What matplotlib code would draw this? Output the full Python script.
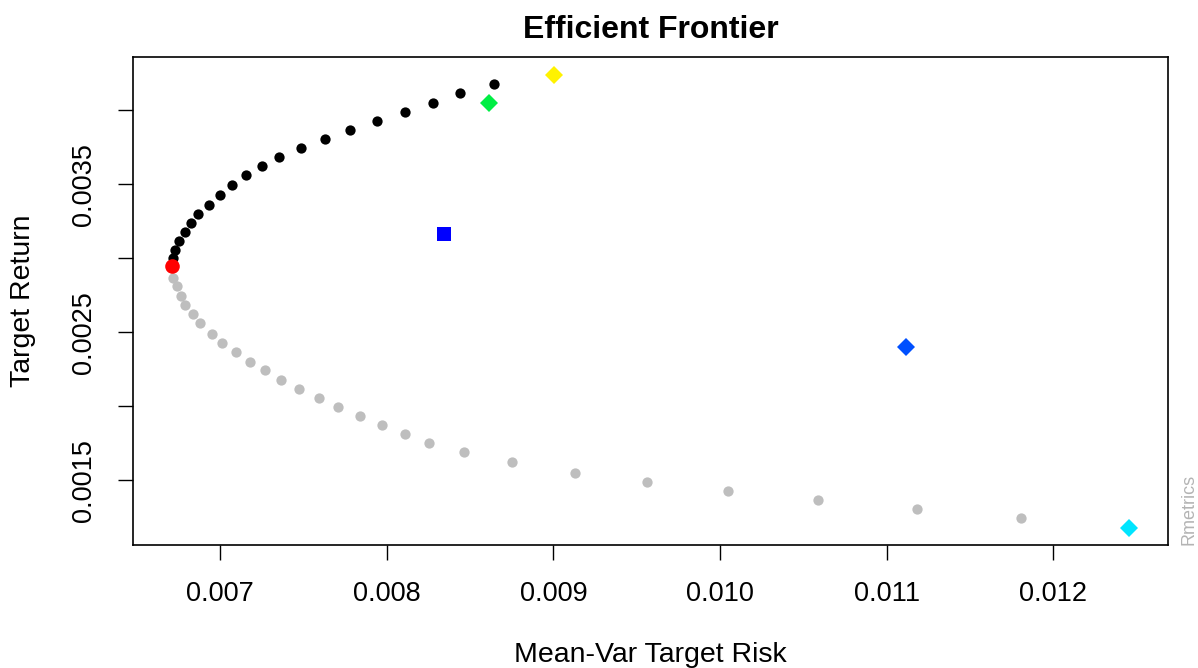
import numpy as np
import matplotlib
matplotlib.use("Agg")
import matplotlib.pyplot as plt

plt.rcParams["font.family"] = ["Liberation Sans", "DejaVu Sans"]

# efficient (upper) branch of the frontier
eff_risk = [0.008644, 0.008440, 0.008276, 0.008110, 0.007944, 0.007780, 0.007628,
            0.007486, 0.007356, 0.007250, 0.007154, 0.007074, 0.007000, 0.006932,
            0.006870, 0.006824, 0.006790, 0.006754, 0.006730, 0.006720]
eff_ret = [0.004175, 0.004114, 0.004051, 0.003991, 0.003927, 0.003867, 0.003806,
           0.003743, 0.003682, 0.003621, 0.003559, 0.003498, 0.003424, 0.003363,
           0.003302, 0.003239, 0.003178, 0.003117, 0.003055, 0.002999]

# inefficient (lower) branch
ineff_risk = [0.006716, 0.006742, 0.006766, 0.006790, 0.006836, 0.006882, 0.006954,
              0.007014, 0.007096, 0.007178, 0.007272, 0.007368, 0.007474, 0.007592,
              0.007710, 0.007840, 0.007970, 0.008110, 0.008252, 0.008466, 0.008750,
              0.009128, 0.009560, 0.010046, 0.010589, 0.011181, 0.011807]
ineff_ret = [0.002870, 0.002810, 0.002746, 0.002686, 0.002625, 0.002562, 0.002488,
             0.002425, 0.002364, 0.002303, 0.002243, 0.002179, 0.002119, 0.002058,
             0.001995, 0.001935, 0.001874, 0.001811, 0.001750, 0.001690, 0.001626,
             0.001552, 0.001489, 0.001428, 0.001366, 0.001305, 0.001244]

# minimum variance and equal weights portfolios
minvar_risk, minvar_ret = 0.006710, 0.002949
ew_risk, ew_ret = 0.008341, 0.003161

# single assets
asset_risk = [0.009002, 0.008612, 0.011115, 0.012452]
asset_ret = [0.004236, 0.004051, 0.002400, 0.001181]
asset_colors = ["#FFF200", "#00EE44", "#0050FF", "#00E5FF"]

x_ticks = [0.007, 0.008, 0.009, 0.010, 0.011, 0.012]
x_labels = ["0.007", "0.008", "0.009", "0.010", "0.011", "0.012"]
y_ticks = [0.0015, 0.0020, 0.0025, 0.0030, 0.0035, 0.0040]
y_labels = ["0.0015", "", "0.0025", "", "0.0035", ""]

W, H = 1198, 668
L, R, T, B = 133, 1168, 57, 545

fig = plt.figure(figsize=(W / 100, H / 100), dpi=100)
ax = fig.add_axes([L / W, 1 - B / H, (R - L) / W, (B - T) / H])

ax.plot(ineff_risk, ineff_ret, "o", color="#BEBEBE", markersize=7.4, markeredgewidth=0)
ax.plot(eff_risk, eff_ret, "o", color="black", markersize=7.4, markeredgewidth=0)
ax.plot([minvar_risk], [minvar_ret], "o", color="red", markersize=10.5, markeredgewidth=0)
ax.plot([ew_risk], [ew_ret], "s", color="#0000FF", markersize=10.5, markeredgewidth=0)
for r, m, c in zip(asset_risk, asset_ret, asset_colors):
    ax.plot([r], [m], "D", color=c, markersize=9.5, markeredgewidth=0)

ax.set_xlim(0.006478, 0.012687)
ax.set_ylim(0.001064, 0.004359)

ax.set_xticks(x_ticks)
ax.set_xticklabels(x_labels)
ax.set_yticks(y_ticks)
ax.set_yticklabels(y_labels, rotation=90, va="center")

ax.tick_params(axis="both", direction="out", length=11, width=1.0, labelsize=19.5, colors="black")
ax.tick_params(axis="x", pad=15)
ax.tick_params(axis="y", pad=15)
for s in ax.spines.values():
    s.set_linewidth(1.2)

ax.set_title("Efficient Frontier", fontsize=23, fontweight="bold", y=(B - 30) / (B - T), va="center", pad=0)
ax.set_xlabel("Mean-Var Target Risk", fontsize=20.5, va="center")
ax.xaxis.set_label_coords(0.5, (B - 655) / (B - T))
ax.set_ylabel("Target Return", fontsize=20.5, va="center", ha="center")
ax.yaxis.set_label_coords((23 - L) / (R - L), 0.5)

fig.text(1189 / W, 1 - B / H, "Rmetrics", rotation=90, color="#B4B4B4",
         fontsize=13, ha="center", va="bottom")

fig.savefig("out.png", dpi=100)
